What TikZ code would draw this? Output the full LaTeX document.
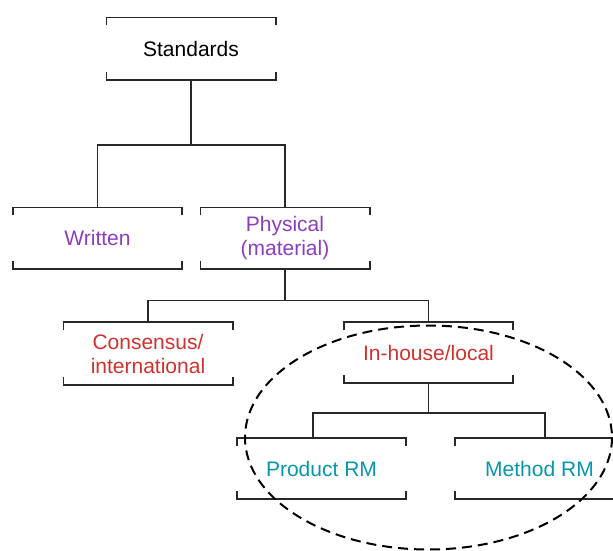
\documentclass[tikz,border=0pt]{standalone}
\usepackage{fontspec}
\setmainfont{Liberation Sans}
\usetikzlibrary{calc}
\definecolor{cpurple}{RGB}{140,62,190}
\definecolor{cred}{RGB}{208,50,45}
\definecolor{cteal}{RGB}{8,150,170}
\definecolor{cline}{RGB}{40,40,40}
\tikzset{
  bbox/.style={minimum width=169pt, minimum height=61pt, inner sep=0pt, align=center, font=\fontsize{21}{24}\selectfont},
  conn/.style={draw=cline, line width=1.6pt},
}
\newcommand\brk[1]{%
  \draw[conn] ($(#1.north west)+(0,8)$) -- (#1.north west) -- (#1.north east) -- ++(0,8);
  \draw[conn] ($(#1.south west)+(0,-8)$) -- (#1.south west) -- (#1.south east) -- ++(0,-8);
}
\begin{document}
\begin{tikzpicture}[x=1pt,y=-1pt]
\useasboundingbox (0,0) rectangle (613,550);
\node[bbox, minimum height=62pt] (std) at (191,48.5) {Standards};
\node[bbox, text=cpurple] (wri) at (97.5,238) {Written};
\node[bbox, text=cpurple] (phy) at (285,238) {Physical\\(material)};
\node[bbox, minimum height=63pt, text=cred] (con) at (148,353.5) {Consensus/\\international};
\node[bbox, text=cred] (inh) at (428.5,352.5) {In-house/local};
\node[bbox, text=cteal] (prd) at (321.5,468.5) {Product RM};
\node[bbox, text=cteal] (met) at (539.5,468.5) {Method RM};
\brk{std}\brk{wri}\brk{phy}\brk{con}\brk{inh}\brk{prd}\brk{met}
\coordinate (j1) at (191,145);
\coordinate (j2) at (285,300.5);
\coordinate (j3) at (428.5,413);
\draw[conn] (std.south) -- (j1);
\draw[conn] (wri.north) |- (j1) -| (phy.north);
\draw[conn] (phy.south) -- (j2);
\draw[conn] (con.north) |- (j2) -| (inh.north);
\draw[conn] (inh.south) -- (j3);
\draw[conn] ($(prd.north)+(-8.5,0)$) |- (j3) -| ($(met.north)+(5.5,0)$);
\draw[line width=2pt, dash pattern=on 10pt off 6pt] (428.5,437.5) ellipse [x radius=183.5, y radius=112];
\end{tikzpicture}
\end{document}
